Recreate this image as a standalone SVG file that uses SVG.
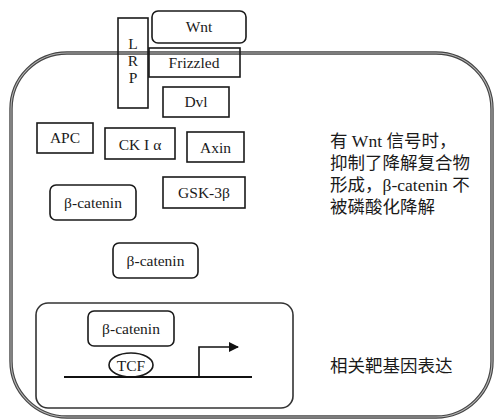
<svg xmlns="http://www.w3.org/2000/svg" width="494" height="420" viewBox="0 0 494 420">
<defs>
<style>
.box{fill:none;stroke:#1a1a1a;stroke-width:1.6}
.lbl{font-family:"Liberation Serif","Noto Sans CJK SC",serif;font-size:15.5px;fill:#1a1a1a;text-anchor:middle}
.cn{font-family:"Liberation Serif","Noto Sans CJK SC",serif;font-size:17.5px;fill:#1a1a1a}
</style>
<marker id="ah" viewBox="0 0 10 10" refX="9" refY="5" markerWidth="10" markerHeight="10" markerUnits="userSpaceOnUse" orient="auto">
<path d="M0,0 L10,5 L0,10 Z" fill="#111"/>
</marker>
</defs>
<rect width="494" height="420" fill="#fff"/>
<g id="cell">
<rect x="11" y="53" width="481" height="364" rx="56" ry="56" fill="none" stroke="#444" stroke-width="3.4"/>
<rect x="11" y="53" width="481" height="364" rx="56" ry="56" fill="none" stroke="#b5b5b5" stroke-width="1.1"/>
</g>
<g id="nucleus">
<rect x="36" y="303" width="257" height="105" rx="12" ry="12" fill="none" stroke="#333" stroke-width="1.6"/>
</g>
<g id="lrp">
<rect class="box" x="118" y="18" width="30" height="90"/>
<text class="lbl" x="133" y="49">L</text>
<text class="lbl" x="133" y="66">R</text>
<text class="lbl" x="133" y="83">P</text>
</g>
<g id="wnt">
<rect class="box" x="152" y="11" width="94" height="32" rx="6" ry="6"/>
<text class="lbl" x="199" y="32">Wnt</text>
</g>
<g id="frizzled">
<rect class="box" x="149" y="48" width="91" height="29"/>
<text class="lbl" x="194" y="68">Frizzled</text>
</g>
<g id="dvl">
<rect class="box" x="163" y="87" width="66" height="30"/>
<text class="lbl" x="196" y="107">Dvl</text>
</g>
<g id="apc">
<rect class="box" x="37" y="123" width="56" height="30"/>
<text class="lbl" x="65" y="143">APC</text>
</g>
<g id="ck1a">
<rect class="box" x="105" y="128" width="70" height="31"/>
<text class="lbl" x="140" y="150">CK I α</text>
</g>
<g id="axin">
<rect class="box" x="187" y="132" width="57" height="30"/>
<text class="lbl" x="215.5" y="153">Axin</text>
</g>
<g id="gsk3b">
<rect class="box" x="163" y="177" width="82" height="31"/>
<text class="lbl" x="204" y="198">GSK-3β</text>
</g>
<g id="bcatenin1">
<rect class="box" x="50" y="185" width="86" height="35" rx="6" ry="6"/>
<text class="lbl" x="93" y="208">β-catenin</text>
</g>
<g id="bcatenin2">
<rect class="box" x="113" y="243" width="85" height="35" rx="6" ry="6"/>
<text class="lbl" x="155.5" y="266">β-catenin</text>
</g>
<g id="bcatenin3">
<rect class="box" x="88" y="311" width="86" height="35" rx="6" ry="6"/>
<text class="lbl" x="131" y="334">β-catenin</text>
</g>
<g id="tcf">
<ellipse class="box" cx="131" cy="365" rx="22" ry="12"/>
<text class="lbl" x="131" y="371">TCF</text>
</g>
<g id="connectors">
<line x1="64" y1="377" x2="252" y2="377" stroke="#111" stroke-width="2"/>
<path d="M199,377 V347 H238" fill="none" stroke="#111" stroke-width="1.6" marker-end="url(#ah)"/>
</g>
<g id="note1">
<text class="cn" x="330" y="147">有 Wnt 信号时，</text>
<text class="cn" x="330" y="169">抑制了降解复合物</text>
<text class="cn" x="330" y="191">形成，β-catenin 不</text>
<text class="cn" x="330" y="213">被磷酸化降解</text>
</g>
<g id="note2">
<text class="cn" x="330" y="372">相关靶基因表达</text>
</g>
</svg>
